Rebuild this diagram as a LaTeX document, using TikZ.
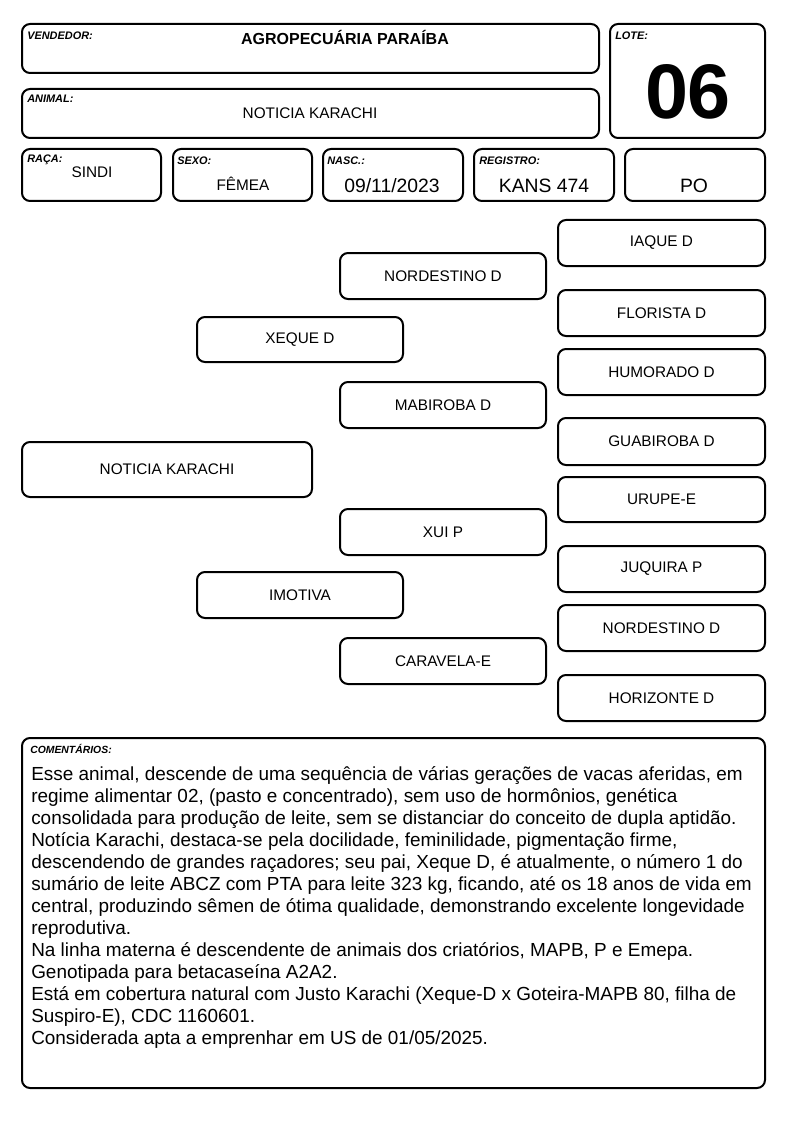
\documentclass[tikz,border=0pt]{standalone}
\usepackage{fontspec}
\setmainfont{Liberation Sans}
\begin{document}
\begin{tikzpicture}[x=0.75pt,y=-0.75pt,
  pbox/.style={draw, line width=1.5pt, rounded corners=6pt, inner sep=0pt, font=\fontsize{11.5}{13}\selectfont},
  lbl/.style={anchor=north west, inner sep=0pt, font=\fontsize{8.2}{9}\selectfont\bfseries\itshape},
  val/.style={inner sep=0pt, font=\fontsize{11.5}{13}\selectfont},
  bigval/.style={inner sep=0pt, font=\fontsize{14.5}{16}\selectfont}]
\newcommand\pbox[6]{\node[pbox, minimum width={(#4-#2)*0.75pt}, minimum height={(#5-#3)*0.75pt}] (#1) at ({(#2+#4)/2},{(#3+#5)/2}) {#6};}
\useasboundingbox (0,0) rectangle (794,1123);
% header
\pbox{vend}{22}{24}{599}{73}{}
\pbox{lote}{610}{24}{765}{138}{}
\pbox{anim}{22}{89}{599}{138}{}
\pbox{raca}{22}{149}{161}{201}{}
\pbox{sexo}{173}{149}{312}{201}{}
\pbox{nasc}{323}{149}{463}{201}{}
\pbox{regi}{474}{149}{614}{201}{}
\pbox{po}{625}{149}{765}{201}{}
\node[lbl] (vendl) at (27,31.5) {VENDEDOR:};
\node[lbl] (lotel) at (615,31.5) {LOTE:};
\node[lbl] (animl) at (27,95) {ANIMAL:};
\node[lbl] (racal) at (27,155) {RAÇA:};
\node[lbl] (sexol) at (177,157) {SEXO:};
\node[lbl] (nascl) at (327,157) {NASC.:};
\node[lbl] (regil) at (479,157) {REGISTRO:};
\node[inner sep=0pt, font=\fontsize{12}{13}\selectfont\bfseries] (vendv) at (345,37) {AGROPECUÁRIA PARAÍBA};
\node[inner sep=0pt, font=\fontsize{58}{60}\selectfont\bfseries] (lotev) at (688,92) {06};
\node[val] (animv) at (310,113) {NOTICIA KARACHI};
\node[val] (racav) at (92,172) {SINDI};
\node[val] (sexov) at (243,184) {FÊMEA};
\node[bigval] (nascv) at (392,186) {09/11/2023};
\node[bigval] (regiv) at (544,186) {KANS 474};
\node[bigval] (pov) at (694,186) {PO};
% pedigree
\pbox{an}{22}{442}{312}{497}{NOTICIA KARACHI}
\pbox{p}{197}{317}{403}{362}{XEQUE D}
\pbox{m}{197}{572}{403}{618}{IMOTIVA}
\pbox{pp}{340}{253}{546}{299}{NORDESTINO D}
\pbox{pm}{340}{382}{546}{428}{MABIROBA D}
\pbox{mp}{340}{509}{546}{555}{XUI P}
\pbox{mm}{340}{638}{546}{684}{CARAVELA-E}
\pbox{ppp}{558}{220}{765}{266}{IAQUE D}
\pbox{ppm}{558}{290}{765}{336}{FLORISTA D}
\pbox{pmp}{558}{349}{765}{395}{HUMORADO D}
\pbox{pmm}{558}{418}{765}{465}{GUABIROBA D}
\pbox{mpp}{558}{477}{765}{522}{URUPE-E}
\pbox{mpm}{558}{546}{765}{592}{JUQUIRA P}
\pbox{mmp}{558}{605}{765}{651}{NORDESTINO D}
\pbox{mmm}{558}{675}{765}{721}{HORIZONTE D}
% comments
\pbox{com}{22}{738}{765}{1088}{}
\node[lbl, font=\fontsize{7.8}{9}\selectfont\bfseries\itshape] (coml) at (30,744) {COMENTÁRIOS:};
\node[anchor=north west, inner sep=0pt, align=left, font=\fontsize{14.2}{16.5}\selectfont] (comt) at (31,766) {%
Esse animal, descende de uma sequência de várias gerações de vacas aferidas, em\\
regime alimentar 02, (pasto e concentrado), sem uso de hormônios, genética\\
consolidada para produção de leite, sem se distanciar do conceito de dupla aptidão.\\
Notícia Karachi, destaca-se pela docilidade, feminilidade, pigmentação firme,\\
descendendo de grandes raçadores; seu pai, Xeque D, é atualmente, o número 1 do\\
sumário de leite ABCZ com PTA para leite 323 kg, ficando, até os 18 anos de vida em\\
central, produzindo sêmen de ótima qualidade, demonstrando excelente longevidade\\
reprodutiva.\\
Na linha materna é descendente de animais dos criatórios, MAPB, P e Emepa.\\
Genotipada para betacaseína A2A2.\\
Está em cobertura natural com Justo Karachi (Xeque-D x Goteira-MAPB 80, filha de\\
Suspiro-E), CDC 1160601.\\
Considerada apta a emprenhar em US de 01/05/2025.};
\end{tikzpicture}
\end{document}
